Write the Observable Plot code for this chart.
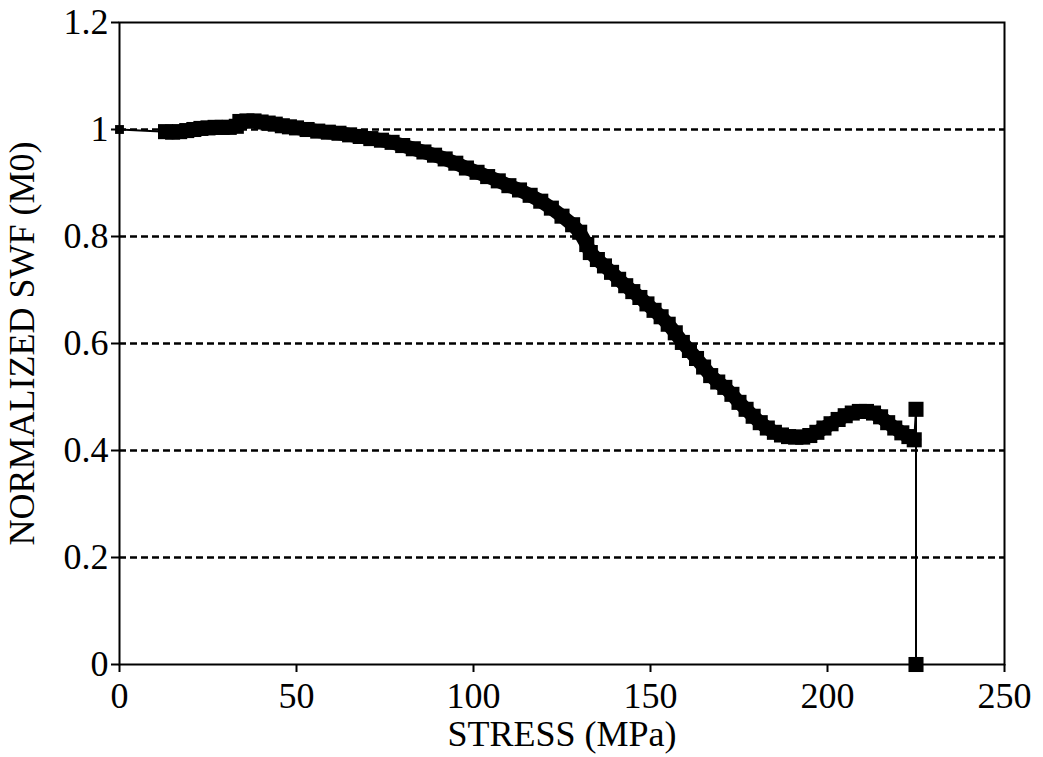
<!DOCTYPE html>
<html>
<head>
<meta charset="utf-8">
<script src="https://cdn.jsdelivr.net/npm/d3@7"></script>
<script src="https://cdn.jsdelivr.net/npm/@observablehq/plot@0.6"></script>
<style>
  html, body { margin: 0; padding: 0; background: #fff; }
  #chart svg { display: block; }
  #chart svg, #chart svg text, #chart svg tspan {
    font-family: "Liberation Serif", "Tinos", "Times New Roman", Times, "DejaVu Serif", serif !important;
  }
</style>
</head>
<body>
<div id="chart"></div>
<script>
// Stress (MPa) and normalized SWF (M0) readings, in loading order.
const stress = [
  0, 13, 15, 17, 19, 21, 23, 25, 27, 29, 31, 33,
  34, 36, 38, 40, 42, 44, 46, 48, 50, 53, 56, 59, 62, 65, 68, 71, 74, 77,
  80, 83, 86, 89, 92, 95, 98, 101, 104, 107, 110, 113, 116, 119, 122, 125,
  128, 130, 132, 133, 135, 137, 139, 141, 143, 145, 147, 149, 151, 153, 155,
  157, 159, 161, 163, 165, 167, 169, 171, 173, 175, 177, 179, 181, 183, 185,
  187, 189, 191, 193, 195, 197, 199, 201, 203, 205, 207, 209, 211, 213, 215,
  217, 219, 221, 223, 224.5, 225, 225
];
const swf = [
  1.000, 0.996, 0.995, 0.996, 0.998, 1.000, 1.002, 1.003, 1.004, 1.004, 1.004, 1.006,
  1.015, 1.016, 1.016, 1.014, 1.012, 1.010, 1.007, 1.005, 1.003, 1.000, 0.997, 0.995, 0.993, 0.990, 0.987, 0.983, 0.980, 0.976,
  0.970, 0.964, 0.958, 0.952, 0.945, 0.937, 0.928, 0.920, 0.912, 0.904, 0.895, 0.887, 0.877, 0.866, 0.853, 0.838,
  0.822, 0.808, 0.785, 0.770, 0.757, 0.745, 0.733, 0.720, 0.708, 0.697, 0.686, 0.674, 0.662, 0.650, 0.636,
  0.620, 0.602, 0.587, 0.572, 0.556, 0.540, 0.528, 0.518, 0.505, 0.490, 0.477, 0.464, 0.452, 0.442, 0.434,
  0.429, 0.426, 0.425, 0.425, 0.428, 0.434, 0.442, 0.450, 0.458, 0.465, 0.470, 0.473, 0.473, 0.470, 0.463,
  0.452, 0.442, 0.433, 0.426, 0.420, 0.477, 0.000
];

const gridLevels = [0.2, 0.4, 0.6, 0.8, 1.0];
const yTicks = [0, 0.2, 0.4, 0.6, 0.8, 1.0, 1.2];
const xTicks = [0, 50, 100, 150, 200, 250];

const data = stress.map((s, i) => ({stress: s, swf: swf[i]}));
// the densely sampled stretch drawn as a heavy band (before the final drop)
const band = data.slice(1, data.length - 2);

const serif = "Liberation Serif, Tinos, Times New Roman, Times, DejaVu Serif, serif";

const chart = Plot.plot({
  width: 1043,
  height: 757,
  marginLeft: 119,
  marginRight: 39,
  marginTop: 22,
  marginBottom: 93,
  style: {fontFamily: serif, fontSize: "36px", color: "#000", background: "#fff"},
  x: {domain: [0, 250]},
  y: {domain: [0, 1.2]},
  marks: [
    Plot.ruleY(gridLevels, {stroke: "#000", strokeWidth: 2.5, strokeDasharray: "7,4"}),
    Plot.frame({stroke: "#000", strokeWidth: 2}),
    Plot.axisX({
      ticks: xTicks, tickSize: 8, tickPadding: 10, strokeWidth: 2, fontFamily: serif,
      label: "STRESS (MPa)", labelAnchor: "center", labelArrow: "none", labelOffset: 81
    }),
    Plot.axisY({
      ticks: yTicks, tickSize: 8, tickPadding: 3, strokeWidth: 2, fontFamily: serif,
      tickFormat: d => `${+d.toFixed(1)}`,
      label: "NORMALIZED SWF (M0)", labelAnchor: "center", labelArrow: "none", labelOffset: 111
    }),
    Plot.line(data, {x: "stress", y: "swf", stroke: "#000", strokeWidth: 2}),
    Plot.line(band, {x: "stress", y: "swf", stroke: "#000", strokeWidth: 14, strokeLinejoin: "round"}),
    Plot.dot(data.slice(1), {x: "stress", y: "swf", symbol: "square", r: 8.5, fill: "#000", stroke: "none"}),
    Plot.dot(data.slice(0, 1), {x: "stress", y: "swf", symbol: "square", r: 5, fill: "#000", stroke: "none"})
  ]
});

document.getElementById("chart").appendChild(chart);
</script>
</body>
</html>
